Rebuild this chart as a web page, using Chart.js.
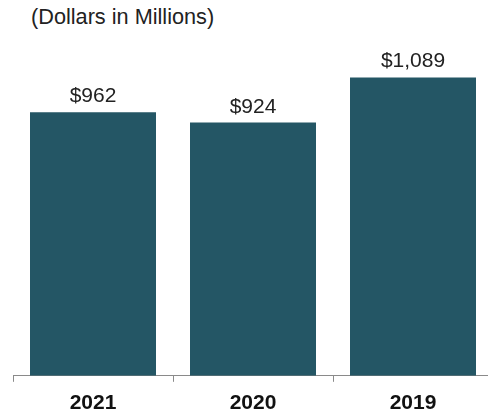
<!DOCTYPE html>
<html>
<head>
<meta charset="utf-8">
<script src="https://cdn.jsdelivr.net/npm/chart.js@4"></script>
<style>
    body { margin: 0; background: #fff; }
    #wrap { position: relative; width: 488px; height: 419px; overflow: hidden; }
    #unit { position: absolute; left: 31px; top: 6px; font: 21.7px "Liberation Sans", Arial, sans-serif; line-height: 22px; color: #222; white-space: nowrap; }
    canvas { position: absolute; left: 0; top: 0; }
</style>
</head>
<body>
<div id="wrap">
    <div id="unit">(Dollars in Millions)</div>
    <canvas id="chartRevenue" width="500" height="419"></canvas>
</div>
<script>
const years = ['2021', '2020', '2019'];
const amounts = [962, 924, 1089];
const amountLabels = ['$962', '$924', '$1,089'];

// writes the dollar amount above each bar
const valueLabels = {
    id: 'valueLabels',
    afterDatasetsDraw(chart) {
        const ctx = chart.ctx;
        const meta = chart.getDatasetMeta(0);
        ctx.save();
        ctx.font = '21px "Liberation Sans", Arial, sans-serif';
        ctx.fillStyle = '#222';
        ctx.textAlign = 'center';
        ctx.textBaseline = 'alphabetic';
        meta.data.forEach((bar, i) => {
            ctx.fillText(amountLabels[i], bar.x, bar.y - 10);
        });
        ctx.restore();
    }
};

const ctxRevenue = document.getElementById('chartRevenue').getContext('2d');

new Chart(ctxRevenue, {
    type: 'bar',
    data: {
        labels: years,
        datasets: [{
            data: amounts,
            backgroundColor: '#245665',
            barPercentage: 0.7875,
            categoryPercentage: 1
        }]
    },
    options: {
        animation: false,
        responsive: false,
        layout: { padding: { left: 13, right: 7, top: 47, bottom: -6 } },
        plugins: { legend: { display: false }, tooltip: { enabled: false } },
        scales: {
            y: { display: false, min: 0, max: 1200 },
            x: {
                offset: true,
                grid: { display: true, drawOnChartArea: false, drawTicks: true, tickLength: 6, color: '#8a8a8a', offset: true },
                border: { display: true, color: '#8a8a8a', width: 1 },
                ticks: { color: '#111', padding: 9, font: { family: '"Liberation Sans", Arial, sans-serif', size: 21, weight: 'bold' } }
            }
        }
    },
    plugins: [valueLabels]
});
</script>
</body>
</html>
